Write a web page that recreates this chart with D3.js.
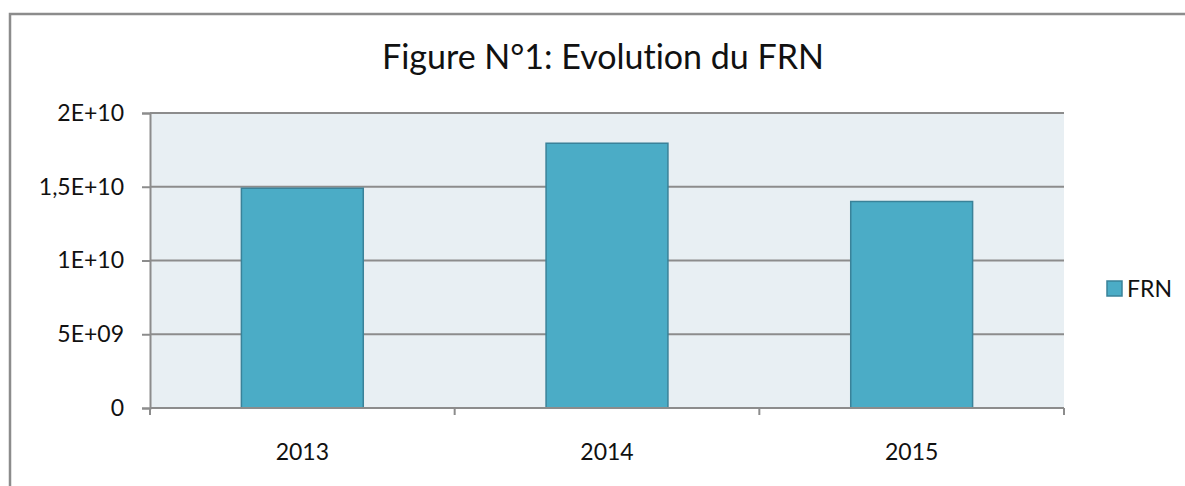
<!DOCTYPE html>
<html>
<head>
<meta charset="utf-8">
<script src="https://cdn.jsdelivr.net/npm/d3@7"></script>
<style>
  body { margin: 0; background: #fff; }
  text { font-family: Lato, "Open Sans", sans-serif; fill: #111; font-variant-ligatures: none; }
</style>
</head>
<body>
<div id="chart"></div>
<script>
// data
const years = ["2013", "2014", "2015"];
const frn = [1.49e10, 1.795e10, 1.40e10];
const yTicks = [0, 5e9, 1e10, 1.5e10, 2e10];
const yTickLabels = ["0", "5E+09", "1E+10", "1,5E+10", "2E+10"];

const width = 1185, height = 486;
const plot = { left: 150, right: 1064, top: 113, bottom: 408 };

const svg = d3.select("#chart").append("svg")
  .attr("width", width)
  .attr("height", height);

// outer chart border
svg.append("rect")
  .attr("x", 10).attr("y", 14)
  .attr("width", width + 10).attr("height", height + 10)
  .attr("fill", "#fff")
  .attr("stroke", "#8c8c8c")
  .attr("stroke-width", 2.5);

const x = d3.scaleBand()
  .domain(years)
  .range([plot.left, plot.right])
  .paddingInner(0.6)
  .paddingOuter(0.3);

const y = d3.scaleLinear()
  .domain([0, 2e10])
  .range([plot.bottom, plot.top]);

// plot background
svg.append("rect")
  .attr("x", plot.left).attr("y", plot.top)
  .attr("width", plot.right - plot.left)
  .attr("height", plot.bottom - plot.top)
  .attr("fill", "#e8eff3");

// gridlines
svg.selectAll(".grid")
  .data(yTicks.slice(1))
  .join("line")
  .attr("class", "grid")
  .attr("x1", plot.left).attr("x2", plot.right)
  .attr("y1", d => y(d)).attr("y2", d => y(d))
  .attr("stroke", "#8c8c8c")
  .attr("stroke-width", 2);

// bars
svg.selectAll(".bar")
  .data(years)
  .join("rect")
  .attr("class", "bar")
  .attr("x", d => x(d))
  .attr("y", (d, i) => y(frn[i]))
  .attr("width", x.bandwidth())
  .attr("height", (d, i) => y(0) - y(frn[i]))
  .attr("fill", "#4bacc6")
  .attr("stroke", "#3a8299")
  .attr("stroke-width", 1.5);

// y axis
const yAxis = d3.axisLeft(y)
  .tickValues(yTicks)
  .tickFormat((d, i) => yTickLabels[i])
  .tickSize(8)
  .tickPadding(18);

const gy = svg.append("g")
  .attr("transform", `translate(${plot.left},0)`)
  .call(yAxis);
gy.select(".domain").attr("stroke", "#8c8c8c").attr("stroke-width", 2);
gy.selectAll(".tick line").attr("stroke", "#8c8c8c").attr("stroke-width", 2);
gy.selectAll(".tick text")
  .attr("font-size", 23)
  .attr("font-family", "Lato, 'Open Sans', sans-serif")
  .attr("fill", "#111");

// x axis: baseline + ticks at category boundaries
const bounds = d3.range(years.length + 1).map(i => plot.left + i * (plot.right - plot.left) / years.length);
svg.append("line")
  .attr("x1", plot.left).attr("x2", plot.right)
  .attr("y1", plot.bottom).attr("y2", plot.bottom)
  .attr("stroke", "#8c8c8c").attr("stroke-width", 2);
svg.selectAll(".xtick")
  .data(bounds)
  .join("line")
  .attr("class", "xtick")
  .attr("x1", d => d).attr("x2", d => d)
  .attr("y1", plot.bottom).attr("y2", plot.bottom + 7)
  .attr("stroke", "#8c8c8c").attr("stroke-width", 2);
svg.selectAll(".xlabel")
  .data(years)
  .join("text")
  .attr("class", "xlabel")
  .attr("x", d => x(d) + x.bandwidth() / 2)
  .attr("y", 460)
  .attr("text-anchor", "middle")
  .attr("font-size", 23)
  .text(d => d);

// title
svg.append("text")
  .attr("x", 603)
  .attr("y", 69)
  .attr("text-anchor", "middle")
  .attr("font-size", 34)
  .text("Figure N°1: Evolution du FRN");

// legend
svg.append("rect")
  .attr("x", 1107).attr("y", 281)
  .attr("width", 15).attr("height", 15)
  .attr("fill", "#4bacc6")
  .attr("stroke", "#3a8299")
  .attr("stroke-width", 1.5);
svg.append("text")
  .attr("x", 1127).attr("y", 297)
  .attr("font-size", 23)
  .text("FRN");
</script>
</body>
</html>
